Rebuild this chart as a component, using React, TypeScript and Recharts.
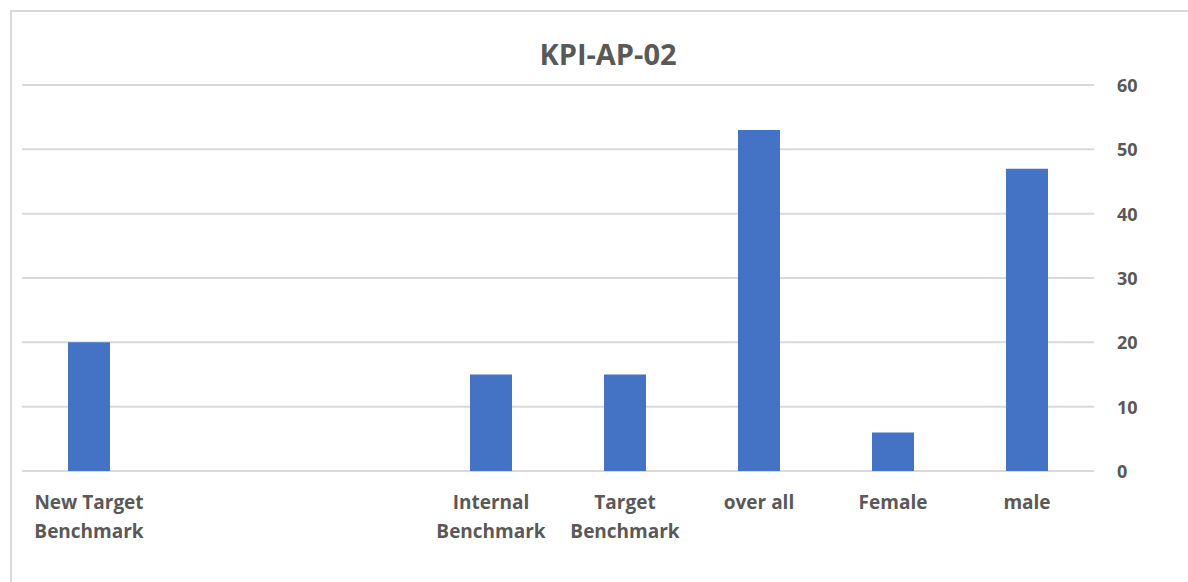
import React from 'react';
import { BarChart, Bar, XAxis, YAxis, CartesianGrid } from 'recharts';

const categories = ['New Target Benchmark', '', ' ', 'Internal Benchmark', 'Target Benchmark', 'over all', 'Female', 'male'];
const values: (number | null)[] = [20, null, null, 15, 15, 53, 6, 47];
const yTicks = [0, 10, 20, 30, 40, 50, 60];

const data = categories.map((name, i) => ({ name, value: values[i] }));

const textColor = '#595959';
const font = '"Open Sans", Lato, sans-serif';

// greedy word wrap, roughly like Excel does for category labels
function wrap(label: string, max = 10) {
  const words = label.trim().split(' ').filter(Boolean);
  const lines: string[] = [];
  let cur = '';
  words.forEach(w => {
    if (!cur) cur = w;
    else if ((cur + ' ' + w).length <= max) cur += ' ' + w;
    else {
      lines.push(cur);
      cur = w;
    }
  });
  if (cur) lines.push(cur);
  return lines;
}

const CategoryTick = (props: any) => {
  const { x, y, payload } = props;
  const lines = wrap(String(payload.value));
  return (
    <g>
      {lines.map((line, i) => (
        <text
          key={i}
          x={x}
          y={y + 23 + i * 29}
          textAnchor="middle"
          dominantBaseline="central"
          fill={textColor}
          fontSize={19}
          fontWeight={700}
          fontFamily={font}
        >
          {line}
        </text>
      ))}
    </g>
  );
};

const ValueTick = (props: any) => {
  const { x, y, payload } = props;
  return (
    <text x={x} y={y} textAnchor="start" dominantBaseline="central" fill={textColor} fontSize={18} fontWeight={700} fontFamily={font}>
      {payload.value}
    </text>
  );
};

export default function App() {
  return (
    <div style={{ position: 'absolute', left: 0, top: 0, width: 1188, height: 582, overflow: 'hidden', background: '#fff' }}>
      <div style={{ position: 'absolute', left: 10, top: 10, width: 1240, height: 640, borderTop: '2px solid #d9d9d9', borderLeft: '2px solid #d9d9d9' }} />
      <div
        style={{
          position: 'absolute', left: 408, top: 34, width: 400, textAlign: 'center',
          fontFamily: font, fontWeight: 700, fontSize: 29, color: textColor, lineHeight: '40px',
        }}
      >
        KPI-AP-02
      </div>
      <div style={{ position: 'absolute', left: 0, top: 0 }}>
        <BarChart width={1188} height={582} data={data} margin={{ top: 85, right: 34, bottom: 31, left: 22 }}>
          <CartesianGrid vertical={false} stroke="#d9d9d9" strokeWidth={2} />
          <XAxis dataKey="name" axisLine={false} tickLine={false} height={80} interval={0} tick={<CategoryTick />} />
          <YAxis
            orientation="right"
            domain={[0, 60]}
            ticks={yTicks}
            width={60}
            axisLine={false}
            tickLine={false}
            tickSize={0}
            tickMargin={23}
            tick={<ValueTick />}
          />
          <Bar dataKey="value" fill="#4472c4" barSize={42} isAnimationActive={false} />
        </BarChart>
      </div>
    </div>
  );
}
